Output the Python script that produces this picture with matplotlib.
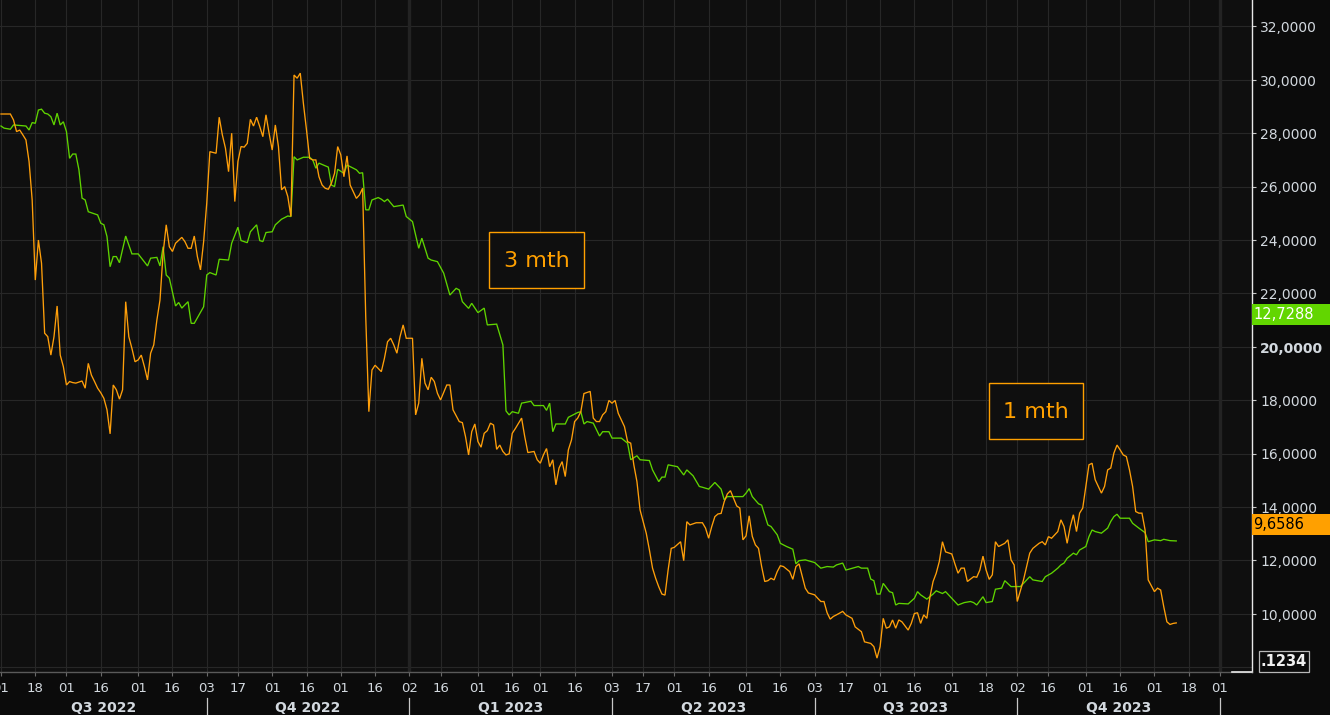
import numpy as np
import matplotlib
matplotlib.use("Agg")
import matplotlib.pyplot as plt
import matplotlib.transforms as mtransforms
from matplotlib.patches import Rectangle
from matplotlib.lines import Line2D

# ---------------- data ----------------
START = "2022-07-01"   # business-day offsets below are counted from this date

# 1 mth (orange) : business-day offset, value
ORANGE_BD = [0, 3, 4, 5, 6, 7, 8, 9, 10, 11, 12, 13, 14, 15, 16, 17, 18, 19, 20, 21, 22, 23, 24, 26, 27, 28, 29, 30,
             31, 32, 33, 34, 35, 36, 37, 38, 39, 40, 41, 42, 43, 44, 45, 46, 47, 48, 49, 50, 51, 52, 53, 54, 55, 56,
             58, 59, 60, 61, 62, 63, 64, 65, 66, 67, 69, 70, 71, 72, 73, 74, 75, 76, 77, 78, 79, 80, 81, 82, 83, 84,
             85, 86, 87, 88, 89, 90, 91, 92, 93, 94, 95, 96, 97, 98, 99, 100, 101, 102, 103, 104, 105, 106, 107, 108,
             109, 110, 111, 112, 113, 114, 115, 116, 117, 118, 119, 120, 122, 123, 124, 125, 126, 127, 128, 129, 130,
             132, 133, 134, 135, 136, 137, 138, 139, 140, 141, 143, 144, 145, 147, 148, 149, 150, 151, 152, 153, 154,
             155, 156, 157, 158, 159, 160, 161, 162, 163, 164, 165, 167, 168, 169, 171, 172, 173, 174, 175, 176, 177,
             178, 179, 180, 181, 182, 183, 184, 185, 186, 187, 189, 190, 191, 192, 193, 194, 195, 196, 197, 198, 199,
             200, 201, 202, 203, 204, 205, 206, 207, 208, 209, 210, 211, 212, 213, 214, 215, 216, 218, 219, 220, 221,
             223, 225, 226, 227, 228, 229, 230, 231, 232, 233, 234, 236, 237, 238, 239, 240, 241, 242, 243, 244, 245,
             246, 247, 248, 249, 250, 251, 253, 254, 255, 256, 258, 259, 261, 262, 263, 264, 265, 266, 267, 268, 270,
             271, 273, 274, 276, 277, 279, 280, 281, 282, 283, 284, 285, 286, 287, 288, 289, 291, 292, 293, 294, 295,
             296, 297, 298, 299, 300, 301, 302, 303, 305, 306, 307, 308, 309, 310, 312, 313, 314, 315, 316, 317, 318,
             319, 320, 322, 323, 324, 325, 326, 328, 330, 331, 333, 334, 335, 336, 337, 339, 340, 341, 342, 343, 344,
             345, 346, 347, 349, 350, 351, 352, 353, 354, 355, 356, 357, 358, 359, 360, 361, 362, 363, 364, 365, 366,
             367, 368, 370, 371, 372, 373, 374, 375, 376, 377]
ORANGE_VAL = [28.72, 28.72, 28.5, 28.06, 28.12, 27.94, 27.75, 26.94, 25.5, 22.5, 24.0, 23.13, 20.51, 20.38, 19.69,
              20.38, 21.53, 19.69, 19.26, 18.57, 18.7, 18.66, 18.64, 18.72, 18.45, 19.38, 18.94, 18.7, 18.45, 18.28,
              18.07, 17.64, 16.74, 18.57, 18.39, 18.04, 18.39, 21.69, 20.38, 19.94, 19.44, 19.51, 19.69, 19.26, 18.76,
              19.76, 20.07, 21.0, 21.75, 23.5, 24.57, 23.75, 23.57, 23.88, 24.1, 23.94, 23.69, 23.69, 24.15, 23.38,
              22.88, 23.94, 25.38, 27.31, 27.25, 28.6, 27.94, 27.44, 26.56, 28.0, 25.44, 26.94, 27.5, 27.48, 27.62,
              28.52, 28.27, 28.6, 28.25, 27.87, 28.69, 28.0, 27.37, 28.31, 27.5, 25.88, 26.0, 25.63, 24.88, 30.18,
              30.06, 30.25, 29.12, 28.12, 27.06, 27.0, 27.0, 26.37, 26.06, 25.94, 25.9, 26.13, 26.5, 27.5, 27.19,
              26.37, 27.15, 26.06, 25.81, 25.56, 25.69, 25.94, 21.13, 17.57, 19.13, 19.31, 19.07, 19.57, 20.19, 20.32,
              20.07, 19.76, 20.38, 20.82, 20.32, 20.32, 17.45, 17.89, 19.57, 18.64, 18.39, 18.86, 18.7, 18.26, 18.01,
              18.57, 18.57, 17.64, 17.2, 17.16, 16.64, 15.95, 16.82, 17.11, 16.45, 16.24, 16.76, 16.86, 17.14, 17.07,
              16.16, 16.32, 16.08, 15.95, 15.99, 16.76, 16.94, 17.33, 16.64, 16.04, 16.08, 15.77, 15.64, 15.95, 16.19,
              15.51, 15.77, 14.83, 15.46, 15.7, 15.14, 16.14, 16.51, 17.2, 17.33, 17.57, 18.25, 18.33, 17.33, 17.2,
              17.2, 17.45, 17.57, 17.99, 17.89, 17.99, 17.51, 17.26, 17.01, 16.45, 16.39, 15.58, 14.95, 13.89, 13.45,
              13.01, 12.39, 11.71, 11.33, 11.01, 10.74, 10.7, 11.64, 12.45, 12.49, 12.7, 11.99, 13.45, 13.33, 13.41,
              13.41, 13.21, 12.83, 13.27, 13.64, 13.74, 13.76, 14.2, 14.49, 14.61, 14.04, 13.96, 12.77, 12.92, 13.67,
              12.9, 12.58, 12.45, 11.77, 11.21, 11.24, 11.33, 11.27, 11.58, 11.8, 11.77, 11.58, 11.29, 11.77, 11.87,
              10.96, 10.78, 10.71, 10.58, 10.46, 10.46, 10.04, 9.8, 9.9, 9.96, 10.09, 9.96, 9.83, 9.51, 9.33, 8.95,
              8.89, 8.77, 8.34, 8.77, 9.83, 9.46, 9.51, 9.77, 9.46, 9.77, 9.7, 9.39, 9.64, 10.01, 10.04, 9.64, 9.96,
              9.83, 10.64, 11.21, 11.52, 11.96, 12.7, 12.32, 12.24, 11.87, 11.52, 11.71, 11.71, 11.21, 11.39, 11.37,
              11.64, 12.16, 11.64, 11.29, 11.46, 12.7, 12.52, 12.64, 12.77, 12.02, 11.83, 10.46, 11.27, 12.27, 12.45,
              12.64, 12.7, 12.58, 12.89, 12.83, 13.08, 13.52, 13.27, 12.64, 13.27, 13.71, 13.08, 13.77, 13.96, 15.58,
              15.64, 15.02, 14.77, 14.52, 14.77, 15.39, 15.46, 16.02, 16.32, 16.14, 15.95, 15.89, 15.39, 14.77, 13.83,
              13.77, 13.77, 13.14, 11.27, 10.83, 10.96, 10.89, 10.26, 9.7, 9.6, 9.64, 9.6586]

# 3 mth (green) : business-day offset, value
GREEN_BD = [0, 1, 3, 4, 8, 9, 10, 11, 12, 13, 14, 15, 16, 17, 18, 19, 20, 21, 22, 23, 24, 25, 26, 27, 28, 31, 32, 33,
            34, 35, 36, 37, 38, 40, 42, 44, 47, 48, 50, 51, 52, 53, 54, 56, 57, 58, 60, 61, 62, 65, 66, 67, 69, 70,
            73, 74, 76, 77, 79, 80, 82, 83, 84, 85, 87, 88, 90, 92, 93, 94, 95, 97, 99, 100, 101, 102, 105, 106, 107,
            108, 110, 111, 114, 115, 116, 117, 118, 119, 121, 122, 123, 124, 126, 129, 130, 132, 134, 135, 137, 138,
            140, 142, 144, 146, 147, 148, 150, 151, 153, 155, 156, 159, 161, 162, 163, 164, 166, 167, 170, 171, 174,
            175, 176, 177, 178, 181, 182, 185, 186, 187, 188, 190, 192, 193, 195, 196, 199, 201, 202, 204, 205, 208,
            209, 211, 212, 213, 214, 217, 219, 220, 222, 224, 225, 227, 229, 231, 232, 233, 238, 239, 240, 241, 243,
            244, 246, 247, 249, 250, 252, 254, 255, 256, 258, 261, 263, 265, 267, 268, 270, 271, 272, 275, 276, 278,
            279, 280, 281, 282, 283, 285, 286, 287, 288, 291, 293, 294, 295, 297, 299, 300, 302, 303, 305, 307, 309,
            311, 312, 313, 315, 316, 318, 319, 321, 322, 324, 327, 328, 330, 331, 334, 335, 337, 339, 340, 341, 342,
            344, 345, 346, 348, 349, 350, 351, 353, 355, 356, 357, 358, 359, 362, 363, 365, 367, 368, 370, 372, 373,
            375, 377]
GREEN_VAL = [28.27, 28.19, 28.15, 28.31, 28.27, 28.12, 28.4, 28.37, 28.87, 28.9, 28.75, 28.72, 28.62, 28.31, 28.75,
             28.31, 28.43, 28.06, 27.06, 27.22, 27.22, 26.63, 25.57, 25.5, 25.06, 24.94, 24.63, 24.57, 24.13, 23.0,
             23.38, 23.38, 23.15, 24.15, 23.48, 23.48, 23.03, 23.32, 23.35, 23.03, 23.75, 22.69, 22.57, 21.53, 21.66,
             21.45, 21.69, 20.88, 20.88, 21.5, 22.69, 22.78, 22.69, 23.28, 23.25, 23.88, 24.48, 23.98, 23.9, 24.31,
             24.57, 23.98, 23.94, 24.28, 24.31, 24.57, 24.78, 24.9, 24.88, 27.12, 27.0, 27.1, 27.1, 27.0, 26.69,
             26.88, 26.73, 26.06, 26.0, 26.65, 26.5, 26.81, 26.63, 26.5, 26.52, 25.13, 25.13, 25.5, 25.59, 25.53,
             25.44, 25.53, 25.25, 25.31, 24.88, 24.69, 23.69, 24.07, 23.32, 23.25, 23.19, 22.76, 21.94, 22.19, 22.13,
             21.69, 21.44, 21.63, 21.28, 21.45, 20.82, 20.85, 20.07, 17.6, 17.45, 17.57, 17.51, 17.89, 17.96, 17.8,
             17.8, 17.62, 17.89, 16.82, 17.11, 17.11, 17.36, 17.54, 17.57, 17.11, 17.2, 17.14, 16.66, 16.82, 16.82,
             16.58, 16.58, 16.39, 15.77, 15.92, 15.77, 15.74, 15.39, 14.95, 15.12, 15.12, 15.58, 15.51, 15.2, 15.39,
             15.17, 14.77, 14.74, 14.67, 14.92, 14.67, 14.27, 14.39, 14.39, 14.52, 14.69, 14.39, 14.12, 14.07, 13.33,
             13.27, 12.96, 12.64, 12.52, 12.42, 11.87, 11.99, 12.02, 11.92, 11.71, 11.77, 11.75, 11.83, 11.9, 11.64,
             11.67, 11.77, 11.71, 11.71, 11.3, 11.24, 10.74, 10.74, 11.14, 10.83, 10.79, 10.33, 10.39, 10.37, 10.58,
             10.83, 10.71, 10.55, 10.74, 10.86, 10.76, 10.83, 10.58, 10.33, 10.42, 10.46, 10.42, 10.33, 10.64, 10.42,
             10.46, 10.92, 10.96, 11.24, 11.02, 11.02, 11.14, 11.39, 11.27, 11.21, 11.39, 11.52, 11.71, 11.83, 11.9,
             12.08, 12.27, 12.21, 12.39, 12.52, 12.89, 13.14, 13.08, 13.02, 13.21, 13.46, 13.64, 13.73, 13.58, 13.58,
             13.39, 13.21, 13.04, 12.7, 12.77, 12.74, 12.79, 12.74, 12.7288]

TICK_DATES = ["2022-07-01", "2022-07-18", "2022-08-01", "2022-08-16", "2022-09-01", "2022-09-16", "2022-10-03",
              "2022-10-17", "2022-11-01", "2022-11-16", "2022-12-01", "2022-12-16", "2023-01-02", "2023-01-16",
              "2023-02-01", "2023-02-16", "2023-03-01", "2023-03-16", "2023-04-03", "2023-04-17", "2023-05-01",
              "2023-05-16", "2023-06-01", "2023-06-16", "2023-07-03", "2023-07-17", "2023-08-01", "2023-08-16",
              "2023-09-01", "2023-09-18", "2023-10-02", "2023-10-16", "2023-11-01", "2023-11-16", "2023-12-01",
              "2023-12-18", "2024-01-01"]
QUARTER_STARTS = ["2022-07-01", "2022-10-03", "2023-01-02", "2023-04-03", "2023-07-03", "2023-10-02", "2024-01-01"]
QUARTER_LABELS = ["Q3 2022", "Q4 2022", "Q1 2023", "Q2 2023", "Q3 2023", "Q4 2023"]
YEAR_STARTS = ["2023-01-02", "2024-01-01"]
Y_TICKS = [10, 12, 14, 16, 18, 20, 22, 24, 26, 28, 30, 32]
LAST_GREEN_TAG = "12,7288"
LAST_ORANGE_TAG = "9,6586"

# ---------------- style ----------------
W, H = 1330, 715
BG_FIG = "#0b0b0b"
BG_AX = "#0f0f0f"
GRID = "#272727"
ORANGE = "#ff9f0a"
GREEN = "#5fd400"
TXT = "#d3d9df"

plt.rcParams["font.family"] = ["DejaVu Sans"]

fig = plt.figure(figsize=(W / 100, H / 100), dpi=100, facecolor=BG_FIG)
AX_L, AX_R, AX_T, AX_B = 0, 1252, 0, 672
ax = fig.add_axes([AX_L / W, (H - AX_B) / H, (AX_R - AX_L) / W, (AX_B - AX_T) / H])
ax.set_facecolor(BG_AX)


def bd(dates):
    return np.busday_count(START, np.array(dates, dtype="datetime64[D]"))


xt = bd(TICK_DATES)
xq = bd(QUARTER_STARTS)
xy = bd(YEAR_STARTS)

ax.set_xlim(-0.32, 401.3)
ax.set_ylim(7.82, 32.99)

# grid
for v in Y_TICKS:
    ax.axhline(v, color=GRID, lw=0.8, zorder=1)
ax.axhline(8, color=GRID, lw=0.8, zorder=1)
for x in xt:
    ax.axvline(x, color=GRID, lw=0.8, zorder=1)
for x in xy:
    ax.axvline(x, color="#232323", lw=2.4, zorder=1)

# series
ax.plot(GREEN_BD, GREEN_VAL, color=GREEN, lw=0.95, zorder=3, solid_joinstyle="miter")
ax.plot(ORANGE_BD, ORANGE_VAL, color=ORANGE, lw=0.95, zorder=4, solid_joinstyle="miter")

# spines / ticks
for s in ["top", "left"]:
    ax.spines[s].set_visible(False)
ax.spines["bottom"].set_color("#5a5a5a")
ax.spines["bottom"].set_linewidth(1.0)
ax.spines["right"].set_color("#e8e8e8")
ax.spines["right"].set_linewidth(1.0)
ax.add_line(Line2D([1232 / 1252, 1.0], [0, 0], transform=ax.transAxes, color="#e8e8e8", lw=1.2,
                   clip_on=False, zorder=6))

ax.set_xticks(xt)
ax.set_xticklabels([])
ax.tick_params(axis="x", length=3, width=0.8, color="#6a6a6a", direction="out")
ax.yaxis.tick_right()
ax.set_yticks(Y_TICKS)
ax.set_yticklabels([])
ax.tick_params(axis="y", length=3, width=0.8, color="#c8c8c8", direction="out")

# y labels
ytr = mtransforms.blended_transform_factory(ax.transAxes, ax.transData)
for v in Y_TICKS:
    ax.text(1260 / 1252, v - 0.217, f"{v:.4f}".replace(".", ","), transform=ytr, ha="left", va="baseline",
            color=TXT, fontsize=10, fontweight="bold" if v == 20 else "normal", clip_on=False)

# x day labels
xtr = ax.get_xaxis_transform()
for x, d in zip(xt, TICK_DATES):
    ax.text(x, -(692 - AX_B) / AX_B, d[-2:], transform=xtr, ha="center", va="baseline",
            color=TXT, fontsize=9.5, clip_on=False)

# quarter labels and separators
for i, lab in enumerate(QUARTER_LABELS):
    xc = (xq[i] + xq[i + 1]) / 2
    ax.text(xc, -(712 - AX_B) / AX_B, lab, transform=xtr, ha="center", va="baseline",
            color=TXT, fontsize=10, fontweight="bold", clip_on=False)
for x in xq[1:]:
    ax.add_line(Line2D([x, x], [-(698 - AX_B) / AX_B, -(716 - AX_B) / AX_B], transform=xtr,
                       color="#c8c8c8", lw=0.9, clip_on=False))


def fx(px):
    return px / W


def fy(py):
    return 1 - py / H


# value tags
fig.patches.append(Rectangle((fx(1252), fy(325)), fx(1330) - fx(1252), fy(304) - fy(325),
                             transform=fig.transFigure, facecolor="#62d600", edgecolor="none", zorder=5))
fig.text(fx(1253), fy(314.5), LAST_GREEN_TAG, ha="left", va="center", color="white", fontsize=10.5, zorder=10)
fig.patches.append(Rectangle((fx(1252), fy(535)), fx(1330) - fx(1252), fy(514) - fy(535),
                             transform=fig.transFigure, facecolor="#ffa000", edgecolor="none", zorder=5))
fig.text(fx(1253), fy(524.5), LAST_ORANGE_TAG, ha="left", va="center", color="black", fontsize=10.5, zorder=10)

# precision box
fig.patches.append(Rectangle((fx(1259), fy(671.5)), fx(1309) - fx(1259), fy(651) - fy(671.5),
                             transform=fig.transFigure, facecolor="none", edgecolor="#b8b8b8", lw=0.9, zorder=5))
fig.text(fx(1284), fy(661.5), ".1234", ha="center", va="center", color="#f0f0f0", fontsize=10.5,
         fontweight="bold", zorder=10)

# annotation boxes
for (x0, y0, x1, y1, lab) in [(489, 232, 584, 288.5, "3 mth"), (988.5, 383, 1083, 439, "1 mth")]:
    fig.patches.append(Rectangle((fx(x0), fy(y1)), fx(x1) - fx(x0), fy(y0) - fy(y1),
                                 transform=fig.transFigure, facecolor=BG_AX, edgecolor="#ffa000", lw=1.0,
                                 zorder=7))
    fig.text(fx((x0 + x1) / 2), fy((y0 + y1) / 2 + 1), lab, ha="center", va="center", color="#ffa000",
             fontsize=16, zorder=10)

fig.savefig("out.png", dpi=100, facecolor=BG_FIG)
